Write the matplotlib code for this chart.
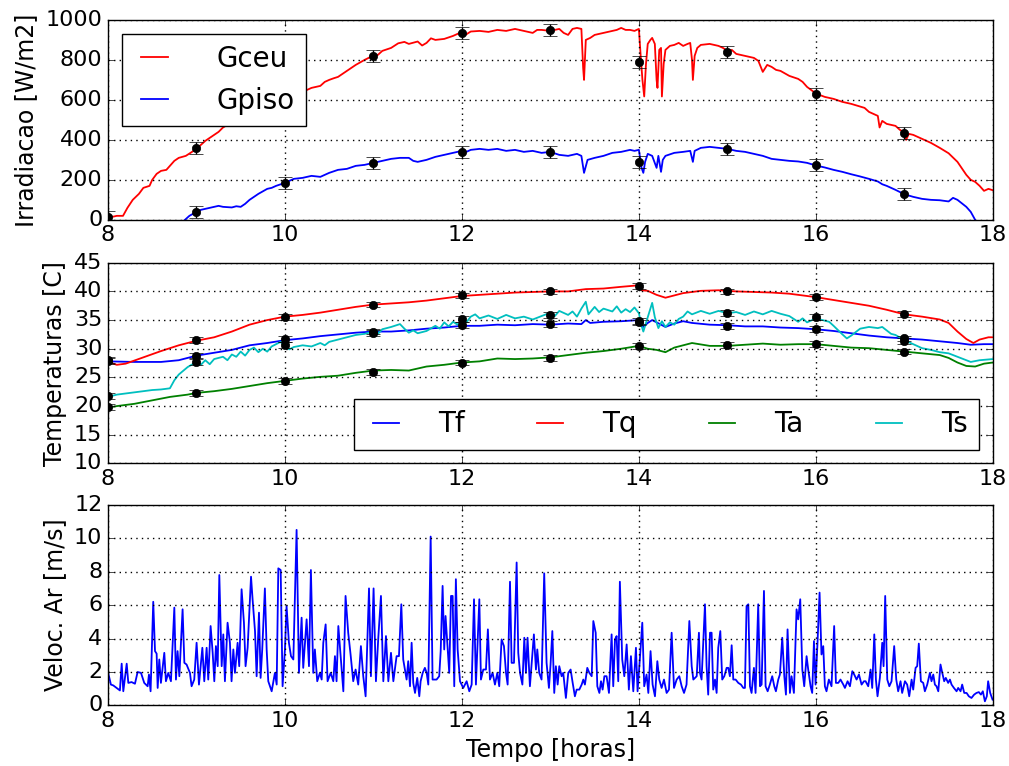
import numpy as np
import matplotlib
matplotlib.use('Agg')
import matplotlib.pyplot as plt

plt.style.use('classic')

# --- Irradiacao (W/m2) ---
t_gceu = [8.00, 8.05, 8.10, 8.17, 8.22, 8.28, 8.35, 8.40, 8.47, 8.50, 8.55, 8.60, 8.66, 8.70,
          8.75, 8.80, 8.88, 8.95, 9.00, 9.05, 9.10, 9.15, 9.20, 9.25, 9.30, 9.35, 9.40, 9.50,
          9.60, 9.70, 9.80, 9.90, 10.00, 10.10, 10.20, 10.25, 10.30, 10.40, 10.45, 10.50, 10.55,
          10.60, 10.70, 10.80, 10.90, 11.00, 11.05, 11.10, 11.20, 11.28, 11.35, 11.40, 11.50,
          11.55, 11.60, 11.65, 11.70, 11.80, 11.90, 12.00, 12.05, 12.10, 12.20, 12.30, 12.40,
          12.50, 12.60, 12.70, 12.80, 12.85, 12.90, 13.00, 13.10, 13.15, 13.20, 13.25, 13.30,
          13.35, 13.37, 13.38, 13.40, 13.45, 13.50, 13.60, 13.70, 13.75, 13.80, 13.85, 13.90,
          13.95, 14.00, 14.02, 14.04, 14.06, 14.08, 14.10, 14.13, 14.15, 14.18, 14.20, 14.21,
          14.23, 14.25, 14.26, 14.28, 14.30, 14.35, 14.40, 14.45, 14.50, 14.55, 14.58, 14.60,
          14.61, 14.63, 14.66, 14.70, 14.80, 14.90, 14.95, 15.00, 15.05, 15.10, 15.20, 15.30,
          15.35, 15.40, 15.45, 15.50, 15.55, 15.60, 15.70, 15.80, 15.85, 15.90, 16.00, 16.10,
          16.20, 16.30, 16.40, 16.50, 16.55, 16.60, 16.70, 16.72, 16.75, 16.80, 16.90, 16.95,
          17.00, 17.02, 17.05, 17.10, 17.20, 17.30, 17.40, 17.50, 17.60, 17.70, 17.75, 17.80,
          17.85, 17.90, 17.95, 18.00]
gceu = [25, 15, 20, 20, 60, 100, 130, 160, 170, 200, 230, 245, 250, 270,
        295, 310, 320, 340, 355, 375, 395, 410, 425, 440, 462, 475, 495, 520,
        555, 575, 590, 605, 620, 635, 645, 650, 660, 670, 690, 700, 708,
        715, 745, 775, 800, 822, 825, 845, 860, 883, 890, 880, 892,
        872, 885, 908, 900, 905, 920, 940, 928, 942, 945, 940, 950,
        945, 955, 945, 935, 950, 950, 945, 955, 935, 925, 955, 960,
        955, 760, 700, 900, 910, 925, 935, 945, 950, 960, 950, 950,
        945, 955, 820, 700, 617, 780, 880, 900, 910, 880, 700, 660,
        850, 860, 617, 780, 850, 870, 875, 885, 870, 880, 885, 800,
        700, 820, 860, 875, 880, 870, 860, 845, 850, 830, 820, 810,
        795, 740, 775, 765, 750, 745, 720, 705, 690, 665, 632, 615,
        605, 590, 580, 567, 560, 540, 520, 462, 495, 480, 470, 450,
        437, 400, 430, 425, 405, 385, 360, 333, 290, 225, 200, 190,
        170, 145, 155, 148]

t_gpiso = [8.87, 8.92, 9.00, 9.05, 9.10, 9.20, 9.25, 9.30, 9.40, 9.45, 9.50, 9.55, 9.60, 9.70,
           9.80, 9.85, 9.90, 10.00, 10.05, 10.10, 10.20, 10.30, 10.40, 10.45, 10.50, 10.60,
           10.70, 10.80, 10.90, 11.00, 11.10, 11.20, 11.30, 11.40, 11.45, 11.50, 11.60, 11.70,
           11.80, 11.90, 12.00, 12.05, 12.10, 12.20, 12.30, 12.40, 12.50, 12.60, 12.70, 12.80,
           12.90, 13.00, 13.10, 13.20, 13.30, 13.35, 13.38, 13.42, 13.50, 13.60, 13.70, 13.80,
           13.90, 13.95, 14.00, 14.03, 14.05, 14.07, 14.10, 14.15, 14.20, 14.22, 14.25, 14.27,
           14.30, 14.40, 14.50, 14.58, 14.61, 14.63, 14.70, 14.80, 14.90, 15.00, 15.10, 15.20,
           15.30, 15.40, 15.50, 15.60, 15.70, 15.80, 15.90, 16.00, 16.10, 16.20, 16.30, 16.40,
           16.50, 16.60, 16.70, 16.75, 16.80, 16.90, 17.00, 17.10, 17.20, 17.30, 17.40, 17.50,
           17.55, 17.60, 17.70, 17.75, 17.80]
gpiso = [0, 20, 40, 50, 55, 65, 70, 65, 62, 68, 65, 80, 100, 130,
         155, 160, 170, 185, 195, 205, 210, 220, 215, 225, 235, 250,
         255, 270, 275, 285, 295, 305, 310, 310, 295, 290, 300, 315,
         325, 335, 345, 340, 350, 355, 350, 355, 345, 350, 340, 345,
         335, 340, 325, 320, 330, 320, 235, 300, 310, 320, 335, 340,
         350, 345, 350, 260, 235, 290, 330, 320, 260, 320, 240, 300,
         320, 335, 340, 345, 290, 345, 360, 365, 360, 355, 345, 340,
         330, 320, 305, 300, 295, 292, 285, 272, 262, 250, 240, 228,
         217, 205, 192, 178, 170, 150, 128, 115, 105, 100, 98, 92,
         110, 100, 65, 40, 0]

horas_g = [8, 9, 10, 11, 12, 13, 14, 15, 16, 17]
gceu_med = [15, 360, 620, 820, 935, 950, 790, 840, 630, 435]
horas_gp = [9, 10, 11, 12, 13, 14, 15, 16, 17]
gpiso_med = [40, 185, 285, 340, 340, 290, 355, 275, 130]
erro_g = 30

# --- Temperaturas (C) ---
t_tq = [8.00, 8.10, 8.20, 8.40, 8.60, 8.80, 9.00, 9.20, 9.40, 9.60, 9.80, 10.00, 10.20, 10.40,
        10.60, 10.80, 11.00, 11.20, 11.40, 11.60, 11.80, 12.00, 12.20, 12.40, 12.60, 12.80,
        13.00, 13.20, 13.40, 13.60, 13.80, 13.95, 14.00, 14.03, 14.10, 14.20, 14.30, 14.40,
        14.50, 14.70, 14.90, 15.10, 15.30, 15.50, 15.70, 15.90, 16.00, 16.20, 16.40, 16.60,
        16.80, 17.00, 17.20, 17.40, 17.50, 17.60, 17.70, 17.78, 17.85, 17.95, 18.00]
tq = [27.7, 27.2, 27.4, 28.5, 29.6, 30.6, 31.4, 32.0, 33.0, 34.2, 35.0, 35.6, 35.9, 36.3,
      36.8, 37.3, 37.7, 37.9, 38.1, 38.4, 38.8, 39.2, 39.4, 39.6, 39.8, 39.9,
      40.0, 40.0, 40.4, 40.5, 40.8, 41.0, 41.1, 40.2, 40.1, 39.4, 38.9, 39.3,
      39.7, 40.1, 40.2, 40.0, 39.9, 39.8, 39.6, 39.2, 39.0, 38.5, 38.0, 37.5,
      36.8, 36.0, 35.6, 35.1, 34.5, 33.0, 31.7, 31.0, 31.6, 32.0, 32.0]

t_tf = [8.00, 8.30, 8.60, 8.80, 9.00, 9.20, 9.40, 9.60, 9.80, 10.00, 10.20, 10.40, 10.60,
        10.80, 11.00, 11.20, 11.40, 11.60, 11.80, 12.00, 12.20, 12.40, 12.60, 12.80, 13.00,
        13.20, 13.35, 13.40, 13.45, 13.60, 13.80, 14.00, 14.05, 14.10, 14.15, 14.25, 14.30,
        14.40, 14.50, 14.60, 14.80, 15.00, 15.20, 15.40, 15.60, 15.80, 16.00, 16.20, 16.40,
        16.60, 16.80, 17.00, 17.20, 17.40, 17.60, 17.75, 17.90, 18.00]
tf = [27.8, 27.7, 27.7, 28.0, 28.8, 29.3, 29.8, 30.6, 31.0, 31.5, 31.8, 32.2, 32.5,
      32.8, 33.0, 33.0, 33.2, 33.5, 33.7, 34.0, 34.0, 34.2, 34.1, 34.3, 34.2,
      34.4, 34.3, 35.0, 34.5, 34.7, 34.8, 35.0, 33.8, 34.5, 35.0, 34.2, 33.8,
      34.4, 34.8, 34.5, 34.2, 34.1, 33.9, 33.9, 33.7, 33.6, 33.4, 33.1, 32.7,
      32.3, 32.0, 31.8, 31.6, 31.3, 31.0, 30.7, 30.8, 30.8]

t_ta = [8.00, 8.10, 8.30, 8.50, 8.70, 8.90, 9.00, 9.20, 9.40, 9.60, 9.80, 10.00, 10.20, 10.40,
        10.60, 10.80, 11.00, 11.20, 11.40, 11.60, 11.80, 12.00, 12.20, 12.40, 12.60, 12.80,
        13.00, 13.20, 13.40, 13.60, 13.80, 14.00, 14.10, 14.20, 14.30, 14.40, 14.50, 14.60,
        14.80, 15.00, 15.20, 15.40, 15.60, 15.80, 16.00, 16.20, 16.40, 16.60, 16.80, 17.00,
        17.20, 17.40, 17.50, 17.60, 17.70, 17.80, 17.90, 18.00]
ta = [19.7, 20.0, 20.4, 21.0, 21.6, 22.0, 22.3, 22.6, 23.0, 23.5, 24.0, 24.4, 24.8, 25.1,
      25.3, 25.8, 26.2, 26.3, 26.2, 26.9, 27.2, 27.6, 27.8, 28.3, 28.2, 28.3,
      28.5, 28.9, 29.3, 29.6, 30.0, 30.5, 30.0, 29.8, 29.4, 30.2, 30.6, 31.0,
      30.5, 30.5, 30.7, 30.9, 30.7, 30.8, 30.8, 30.5, 30.2, 30.1, 29.8, 29.5,
      29.2, 28.9, 28.4, 27.6, 27.0, 26.9, 27.4, 27.6]

t_ts = [8.00, 8.10, 8.20, 8.30, 8.40, 8.50, 8.60, 8.70, 8.75, 8.80, 8.90, 9.00, 9.05, 9.10,
        9.15, 9.20, 9.30, 9.35, 9.40, 9.45, 9.50, 9.55, 9.60, 9.65, 9.70, 9.75, 9.80, 9.85,
        9.90, 9.95, 10.00, 10.05, 10.10, 10.20, 10.30, 10.40, 10.45, 10.50, 10.60, 10.70,
        10.80, 10.90, 11.00, 11.05, 11.10, 11.20, 11.30, 11.35, 11.40, 11.45, 11.50, 11.60,
        11.70, 11.75, 11.80, 11.85, 11.90, 11.95, 12.00, 12.05, 12.10, 12.15, 12.20, 12.30,
        12.40, 12.50, 12.60, 12.70, 12.80, 12.90, 13.00, 13.05, 13.10, 13.20, 13.25, 13.30,
        13.35, 13.40, 13.43, 13.50, 13.55, 13.60, 13.70, 13.75, 13.80, 13.85, 13.90, 13.95,
        14.00, 14.03, 14.05, 14.10, 14.15, 14.18, 14.22, 14.26, 14.30, 14.35, 14.40, 14.45,
        14.50, 14.55, 14.60, 14.70, 14.80, 14.90, 15.00, 15.10, 15.20, 15.30, 15.40, 15.50,
        15.60, 15.70, 15.80, 15.85, 15.90, 16.00, 16.10, 16.15, 16.20, 16.30, 16.35, 16.40,
        16.50, 16.60, 16.70, 16.75, 16.80, 16.85, 16.90, 17.00, 17.10, 17.20, 17.30, 17.40,
        17.50, 17.60, 17.70, 17.75, 17.85, 18.00]
ts = [21.6, 22.0, 22.2, 22.4, 22.6, 22.8, 22.9, 23.1, 24.5, 25.5, 26.8, 27.7, 27.2, 28.0,
      27.3, 28.2, 28.6, 28.0, 29.0, 28.6, 29.5, 28.8, 29.8, 30.2, 29.4, 30.0, 29.5, 30.4,
      30.8, 31.2, 30.4, 29.9, 30.3, 30.6, 30.4, 31.0, 30.6, 31.2, 31.6, 32.0,
      32.4, 32.6, 33.0, 32.6, 33.4, 33.8, 34.3, 33.5, 32.8, 33.2, 32.7, 33.1,
      34.0, 33.5, 34.6, 33.9, 34.7, 34.2, 35.0, 34.6, 35.6, 36.0, 35.3, 35.8,
      35.2, 35.9, 35.3, 35.6, 35.1, 35.7, 36.3, 35.7, 36.6, 35.9, 36.5, 35.6,
      37.0, 38.2, 36.0, 37.3, 36.4, 37.0, 36.5, 37.4, 36.3, 36.9, 36.4, 37.2,
      36.2, 34.0, 33.0, 35.5, 38.0, 35.5, 33.6, 34.8, 33.8, 34.6, 34.2, 35.2,
      35.6, 36.5, 36.0, 36.6, 36.1, 36.6, 36.2, 36.4, 35.9, 36.5, 36.0, 36.6,
      36.1, 35.7, 34.7, 35.3, 34.6, 35.3, 34.9, 34.7, 34.0, 32.5, 31.8, 32.3,
      33.5, 33.8, 33.6, 33.8, 33.2, 32.6, 32.4, 31.5, 30.8, 30.1, 29.8, 29.4,
      29.2, 28.6, 28.0, 27.7, 28.0, 28.2]

horas_t = [8, 9, 10, 11, 12, 13, 14, 15, 16, 17]
tf_med = [27.8, 28.8, 31.7, 33.0, 34.2, 34.3, 34.6, 34.0, 33.4, 31.8]
tq_med = [28.0, 31.5, 35.6, 37.7, 39.3, 40.0, 41.0, 40.0, 39.0, 36.0]
ta_med = [19.8, 22.3, 24.4, 26.0, 27.6, 28.4, 30.5, 30.6, 30.8, 29.5]
ts_med = [21.7, 27.7, 30.6, 32.8, 35.2, 35.9, 34.9, 36.2, 35.6, 31.3]
erro_t = 0.5

# --- Velocidade do ar (m/s), tempo em minutos depois das 8h ---
vento_min = [0.0, 2.0, 3.6, 5.9, 8.1, 9.3, 10.4, 12.7, 13.8, 16.0, 18.3, 20.1, 22.4, 24.6, 26.9,
             27.8, 28.9, 30.7, 31.9, 33.0, 33.7, 34.8, 35.9, 38.2, 39.3, 40.9, 42.7, 45.0, 46.1,
             47.2, 48.4, 50.6, 51.8, 53.3, 55.6, 56.7, 58.5, 60.1, 61.7, 64.0, 65.3, 66.9, 68.0,
             69.6, 71.0, 72.1, 73.2, 74.4, 75.5, 77.1, 78.2, 79.3, 81.1, 82.7, 83.8, 85.0, 86.1,
             87.9, 89.0, 90.6, 92.2, 93.3, 94.7, 97.0, 98.1, 99.7, 100.8, 102.4, 103.5, 104.6,
             106.4, 107.6, 108.7, 111.0, 113.2, 114.4, 115.5, 117.1, 118.4, 120.0, 121.1, 122.7,
             124.1, 125.7, 127.9, 129.5, 131.3, 132.4, 134.7, 136.3, 137.6, 139.2, 140.3, 141.9,
             143.7, 144.9, 146.0, 147.6, 148.9, 151.0, 152.8, 153.9, 155.0, 156.2, 157.7, 159.6,
             161.1, 162.9, 164.5, 166.3, 167.9, 169.7, 171.5, 173.1, 174.7, 177.0, 178.3, 180.1,
             181.7, 183.3, 185.1, 186.7, 188.5, 190.1, 191.9, 193.5, 195.7, 197.3, 198.9, 200.2,
             202.5, 203.6, 204.8, 205.9, 207.0, 208.2, 209.7, 211.1, 212.0, 213.4, 214.9, 216.1,
             217.2, 218.8, 220.1, 222.8, 224.6, 225.6, 226.9, 228.0, 228.9, 230.1, 231.4, 232.6,
             233.7, 234.8, 235.9, 237.1, 238.7, 240.9, 243.2, 245.0, 246.6, 248.2, 249.5, 251.8,
             252.9, 254.5, 256.3, 257.6, 259.0, 260.8, 262.4, 264.0, 265.3, 266.9, 268.5, 269.9,
             271.0, 272.6, 273.7, 275.3, 277.1, 278.2, 279.4, 281.0, 282.3, 283.4, 284.5, 286.1,
             287.5, 288.8, 290.2, 291.1, 292.4, 294.0, 295.8, 297.4, 299.0, 300.1, 301.3, 302.6,
             303.7, 304.9, 306.0, 307.6, 308.7, 310.5, 312.1, 313.7, 315.1, 316.6, 317.8, 319.6,
             321.2, 322.3, 323.4, 325.0, 326.4, 328.0, 329.1, 330.7, 331.8, 333.2, 334.3, 335.4,
             336.6, 338.1, 339.7, 341.5, 342.6, 343.8, 344.9, 346.0, 347.1, 348.7, 350.1, 351.7,
             353.2, 354.6, 356.2, 358.0, 359.1, 360.7, 362.3, 363.6, 365.2, 366.4, 367.9, 369.3,
             370.9, 372.5, 373.8, 375.4, 377.0, 378.8, 380.4, 382.2, 383.8, 385.6, 387.4, 389.0,
             390.6, 392.3, 394.2, 395.8, 396.9, 399.2, 400.7, 401.4, 402.5, 403.6, 404.8, 405.9,
             407.0, 408.2, 409.3, 410.4, 411.6, 412.7, 413.8, 415.2, 416.5, 417.9, 419.5, 420.6,
             421.7, 422.9, 424.0, 425.6, 427.4, 429.2, 430.8, 431.9, 433.0, 434.2, 435.3, 436.4,
             438.0, 439.1, 440.9, 442.1, 443.2, 444.8, 445.9, 447.3, 448.8, 450.4, 451.8, 452.9,
             454.5, 455.6, 457.2, 458.6, 459.7, 460.8, 462.4, 463.5, 465.1, 466.9, 468.0, 469.4,
             470.8, 472.1, 473.7, 474.8, 476.4, 477.5, 478.7, 479.8, 481.1, 482.5, 483.8, 485.0,
             486.1, 487.2, 488.8, 490.6, 492.4, 493.6, 495.2, 496.7, 498.6, 499.7, 501.5, 503.1,
             504.7, 506.0, 507.6, 509.2, 511.0, 512.6, 513.7, 515.5, 517.1, 518.2, 519.6, 520.7,
             521.8, 523.4, 525.0, 525.9, 527.0, 528.4, 529.8, 531.3, 533.1, 534.5, 535.8, 537.4,
             538.5, 540.4, 541.9, 543.3, 544.9, 546.0, 547.6, 548.7, 549.8, 551.2, 552.8, 553.9,
             555.5, 557.3, 558.4, 559.6, 560.7, 561.8, 563.0, 564.5, 565.7, 567.0, 568.1, 569.7,
             570.9, 572.0, 573.6, 575.4, 576.5, 578.1, 579.2, 580.6, 582.2, 583.7, 585.5, 587.3,
             588.9, 590.5, 591.9, 593.2, 594.6, 595.9, 596.8, 598.2, 599.8]
vento = [2.0, 1.25, 1.2, 1.05, 0.9, 2.5, 0.85, 2.5, 1.35, 1.4, 1.3, 2.0, 1.95, 1.35, 1.15,
         1.85, 0.85, 6.2, 3.25, 3.1, 1.05, 2.75, 1.35, 3.15, 1.45, 1.95, 1.45, 5.85, 1.55,
         3.25, 1.75, 5.75, 2.55, 2.45, 1.95, 1.15, 1.55, 3.75, 1.25, 3.45, 1.45, 3.45, 1.55,
         4.75, 3.15, 1.45, 3.55, 2.35, 7.8, 2.35, 4.25, 1.45, 4.95, 3.75, 1.45, 3.35, 1.95,
         3.75, 2.35, 6.95, 4.95, 2.35, 3.45, 7.7, 6.3, 4.45, 1.75, 5.55, 1.65, 3.35,
         7.0, 3.35, 1.45, 0.85, 1.95, 1.25, 8.2, 8.1, 1.15, 3.35, 5.95, 3.75,
         2.95, 2.75, 10.5, 1.95, 5.25, 2.25, 5.15, 2.35, 8.1, 1.95, 3.35, 1.45,
         1.95, 1.55, 3.75, 4.85, 1.45, 1.95, 1.45, 2.95, 1.45, 4.75, 3.05, 0.85,
         6.55, 4.35, 3.05, 1.45, 2.15, 1.25, 3.55, 1.75, 0.55, 7.0, 1.75, 7.0,
         1.45, 4.05, 6.55, 1.45, 4.15, 1.45, 3.15, 1.45, 2.95, 2.95, 6.05, 2.75,
         1.55, 2.65, 1.15, 3.75, 1.35, 0.75, 1.65, 0.55, 1.45, 1.95, 2.25, 1.95,
         1.25, 10.1, 1.55, 1.55, 1.75, 3.25, 7.15, 3.35, 5.35, 3.75, 1.95, 6.55,
         6.55, 1.15, 7.55, 3.35, 1.45, 1.05, 1.45, 0.85, 1.25, 6.35, 1.25, 6.35,
         1.55, 2.15, 2.15, 4.55, 1.55, 1.95, 1.25, 1.95, 1.15, 3.95, 3.55, 1.95,
         1.25, 7.4, 2.55, 2.55, 8.55, 3.15, 1.95, 1.25, 4.05, 1.95, 4.05, 1.15,
         2.75, 4.25, 2.15, 3.35, 1.95, 1.55, 7.9, 2.55, 1.05, 2.45, 4.45, 0.75,
         2.35, 1.25, 2.35, 1.75, 1.95, 0.45, 1.95, 2.15, 1.35, 0.55, 0.95, 0.95,
         1.25, 1.55, 1.25, 2.25, 1.95, 1.75, 5.05, 4.35, 1.15, 0.75, 1.45, 0.95,
         1.75, 1.75, 0.75, 4.25, 1.15, 3.95, 4.15, 1.45, 7.4, 2.75, 1.75, 3.65,
         0.95, 2.95, 0.85, 3.45, 0.85, 2.85, 4.95, 1.15, 1.85, 0.75, 3.25, 1.25,
         0.55, 2.65, 1.55, 1.05, 1.55, 0.75, 0.95, 4.35, 1.05, 1.55, 1.75, 1.15,
         0.75, 1.25, 5.05, 2.35, 1.55, 1.75, 4.35, 1.95, 1.55, 3.75, 6.05, 2.35,
         0.65, 4.35, 4.35, 0.95, 1.55, 0.75, 3.45, 4.45, 1.55, 1.75, 2.25, 2.25,
         1.75, 3.6, 1.55, 1.55, 1.35, 1.25, 1.05, 1.05, 5.95, 6.05, 1.15, 0.75,
         2.25, 0.75, 6.05, 1.15, 1.25, 6.85, 1.15, 0.85, 1.25, 1.75, 1.15, 0.85,
         1.55, 1.85, 4.05, 1.75, 0.65, 4.55, 0.75, 1.75, 0.75, 5.75, 5.15, 6.35,
         2.15, 1.15, 2.95, 2.15, 1.15, 0.75, 3.85, 1.25, 3.75, 6.75, 3.05, 3.55,
         1.15, 0.85, 1.55, 1.15, 4.75, 1.35, 1.35, 1.55, 1.25, 1.05, 1.45, 1.15,
         2.05, 1.85, 1.55, 1.85, 1.25, 1.45, 1.45, 1.15, 2.15, 1.05, 4.25, 1.55,
         0.55, 1.65, 3.75, 2.35, 6.55, 1.55, 1.15, 1.45, 3.55, 1.55, 0.85, 1.45,
         0.75, 1.45, 1.25, 0.55, 1.55, 0.95, 2.25, 2.35, 3.7, 1.45, 1.35, 0.85,
         1.25, 1.95, 1.45, 1.85, 1.25, 1.15, 0.85, 2.45, 1.95, 1.45, 1.65, 1.35,
         1.55, 1.25, 1.05, 0.85, 1.05, 0.85, 1.25, 0.75, 0.75, 0.55, 0.45, 0.65,
         0.75, 0.8, 0.65, 0.85, 0.25, 0.55, 1.45, 0.75, 0.35]

t_vento = 8 + np.array(vento_min) / 60.0

fs = 16
lw = 1.3
fig = plt.figure(figsize=(10.09, 7.66), dpi=100, facecolor='white')
ax1 = fig.add_axes([0.107, 0.713, 0.877, 0.261])
ax2 = fig.add_axes([0.107, 0.395, 0.877, 0.262])
ax3 = fig.add_axes([0.107, 0.079, 0.877, 0.262])

# Irradiacao
ax1.plot(t_gceu, gceu, 'r-', lw=lw, label='Gceu')
ax1.plot(t_gpiso, gpiso, 'b-', lw=lw, label='Gpiso')
ax1.errorbar(horas_g, gceu_med, yerr=erro_g, fmt='ko', ms=6, capsize=5, ecolor='k')
ax1.errorbar(horas_gp, gpiso_med, yerr=erro_g, fmt='ko', ms=6, capsize=5, ecolor='k')
ax1.set_ylim(0, 1000)
ax1.set_yticks(range(0, 1001, 200))
ax1.set_ylabel('Irradiacao [W/m2]', fontsize=17)
ax1.legend(loc='upper left', fontsize=20, handlelength=1.55, handletextpad=1.45,
           labelspacing=0.5)

# Temperaturas
ax2.plot(t_tf, tf, 'b-', lw=lw, label='Tf')
ax2.plot(t_tq, tq, 'r-', lw=lw, label='Tq')
ax2.plot(t_ta, ta, 'g-', lw=lw, label='Ta')
ax2.plot(t_ts, ts, 'c-', lw=lw, label='Ts')
for med in (tf_med, tq_med, ta_med, ts_med):
    ax2.errorbar(horas_t, med, yerr=erro_t, fmt='ko', ms=6, capsize=5, ecolor='k')
ax2.set_ylim(10, 45)
ax2.set_yticks(range(10, 46, 5))
ax2.set_ylabel('Temperaturas [C]', fontsize=17)
ax2.legend(loc='lower right', ncol=4, fontsize=20, handlelength=1.55,
           handletextpad=1.1, columnspacing=2.3)

# Velocidade do ar
ax3.plot(t_vento, vento, 'b-', lw=lw)
ax3.set_ylim(0, 12)
ax3.set_yticks(range(0, 13, 2))
ax3.set_ylabel('Veloc. Ar [m/s]', fontsize=17)
ax3.set_xlabel('Tempo [horas]', fontsize=17)

for ax in (ax1, ax2, ax3):
    ax.set_xlim(8, 18)
    ax.set_xticks(range(8, 19, 2))
    ax.grid(True, color='k', linestyle=':', linewidth=1.0)
    ax.tick_params(labelsize=fs)
    ax.set_facecolor('white')

fig.savefig('out.png', dpi=100, facecolor='white')
